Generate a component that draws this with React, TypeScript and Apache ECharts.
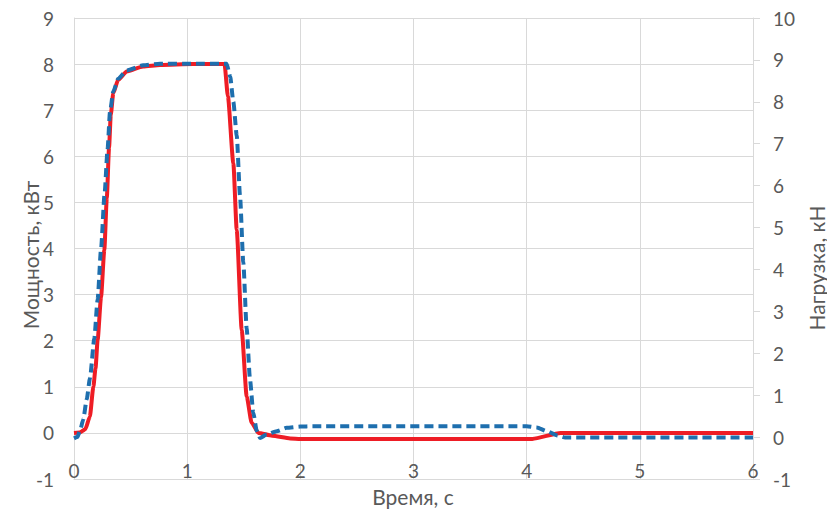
import React, { useEffect, useRef } from "react";
import * as echarts from "echarts";

// Time (s) / power (kW, left axis)
const powerT = [0, 0.05, 0.1, 0.14, 0.171, 0.19, 0.209, 0.239, 0.268, 0.29, 0.31, 0.325, 0.347, 0.39, 0.466, 0.61, 0.76, 1.05, 1.33, 1.36, 1.408, 1.438, 1.482, 1.526, 1.57, 1.63, 1.75, 1.91, 2.0, 4.05, 4.3, 6.0];
const powerKW = [0, 0.01, 0.08, 0.35, 1.0, 1.4, 2.02, 2.95, 3.97, 5.1, 6.2, 6.9, 7.37, 7.66, 7.84, 7.95, 7.98, 8.0, 8.0, 7.3, 5.85, 4.4, 2.23, 0.79, 0.22, 0.0, -0.06, -0.12, -0.13, -0.13, 0.0, 0.0];

// Time (s) / load (kN, right axis)
const loadT = [0, 0.03, 0.053, 0.082, 0.112, 0.141, 0.179, 0.209, 0.239, 0.27, 0.297, 0.318, 0.347, 0.39, 0.466, 0.61, 0.76, 1.05, 1.349, 1.38, 1.408, 1.438, 1.467, 1.496, 1.526, 1.555, 1.584, 1.615, 1.644, 1.703, 1.791, 1.879, 2.0, 2.11, 4.0, 4.09, 4.18, 4.27, 4.34, 6.0];
const loadKN = [-0.03, 0.0, 0.15, 0.42, 0.9, 1.4, 2.34, 3.29, 4.49, 5.8, 6.88, 7.76, 8.24, 8.55, 8.75, 8.87, 8.91, 8.91, 8.91, 8.6, 8.0, 7.2, 5.76, 4.17, 2.58, 1.38, 0.58, 0.15, -0.02, 0.06, 0.14, 0.22, 0.25, 0.26, 0.26, 0.23, 0.14, 0.04, -0.01, -0.01];

const xTicks = { min: 0, max: 6, interval: 1 };
const leftTicks = { min: -1, max: 9, interval: 1 };
const rightTicks = { min: -1, max: 10, interval: 1 };

const xTitle = "Время, с";
const leftTitle = "Мощность, кВт";
const rightTitle = "Нагрузка, кН";

const FONT = "Lato";
const TEXT = "#595959";
const GRID = "#D9D9D9";

export default function App() {
  const ref = useRef<HTMLDivElement>(null);
  useEffect(() => {
    if (!ref.current) return;
    const chart = echarts.init(ref.current, undefined, { renderer: "svg" });
    const powerData = powerT.map((t, i) => [t, powerKW[i]]);
    const loadData = loadT.map((t, i) => [t, loadKN[i]]);
    chart.setOption({
      animation: false,
      backgroundColor: "#ffffff",
      textStyle: { fontFamily: FONT },
      grid: { left: 74, right: 74, top: 18, bottom: 30 },
      xAxis: {
        type: "value",
        position: "bottom",
        ...xTicks,
        axisLine: { show: true, onZero: false, lineStyle: { color: GRID, width: 1 } },
        axisTick: { show: false },
        axisLabel: { color: TEXT, fontSize: 19, fontFamily: FONT, margin: -18 },
        splitLine: { show: true, lineStyle: { color: GRID, width: 1 } },
      },
      yAxis: [
        {
          type: "value",
          position: "left",
          ...leftTicks,
          axisLine: { show: true, lineStyle: { color: GRID, width: 1 } },
          axisTick: { show: false },
          axisLabel: { color: TEXT, fontSize: 19, fontFamily: FONT, margin: 20 },
          splitLine: { show: true, lineStyle: { color: GRID, width: 1 } },
        },
        {
          type: "value",
          position: "right",
          ...rightTicks,
          axisLine: { show: true, onZero: false, lineStyle: { color: GRID, width: 1 } },
          axisTick: { show: true, inside: false, length: 7, lineStyle: { color: GRID, width: 1 } },
          axisLabel: { color: TEXT, fontSize: 19, fontFamily: FONT, margin: 20 },
          splitLine: { show: false },
        },
      ],
      series: [
        {
          name: leftTitle,
          type: "line",
          yAxisIndex: 0,
          data: powerData,
          showSymbol: false,
          smooth: 0.2,
          smoothMonotone: "x",
          lineStyle: { color: "#EE1D25", width: 4 },
          z: 2,
        },
        {
          name: rightTitle,
          type: "line",
          yAxisIndex: 1,
          data: loadData,
          showSymbol: false,
          smooth: 0.2,
          smoothMonotone: "x",
          lineStyle: { color: "#1E6FAE", width: 4, type: [9, 5] },
          z: 3,
        },
      ],
      graphic: [
        {
          type: "text",
          x: 413,
          y: 496,
          style: { text: xTitle, fill: TEXT, font: `21px ${FONT}`, textAlign: "center", textVerticalAlign: "middle" },
        },
        {
          type: "text",
          x: 30,
          y: 255,
          rotation: Math.PI / 2,
          style: { text: leftTitle, fill: TEXT, font: `21px ${FONT}`, textAlign: "center", textVerticalAlign: "middle" },
        },
        {
          type: "text",
          x: 816,
          y: 268,
          rotation: Math.PI / 2,
          style: { text: rightTitle, fill: TEXT, font: `21px ${FONT}`, textAlign: "center", textVerticalAlign: "middle" },
        },
      ],
    });
    return () => chart.dispose();
  }, []);
  return (
    <div
      ref={ref}
      style={{ position: "fixed", left: 0, top: 0, width: 827, height: 509, background: "#fff" }}
    />
  );
}
